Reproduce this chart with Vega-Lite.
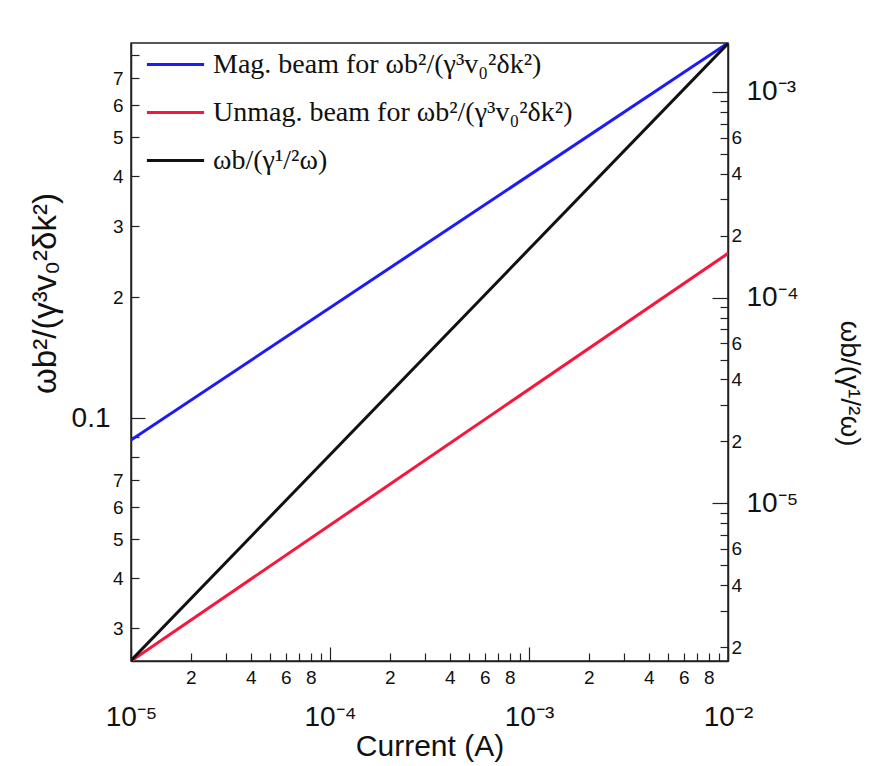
{
  "$schema": "https://vega.github.io/schema/vega-lite/v6.json",
  "autosize": "none",
  "width": 597,
  "height": 618,
  "padding": {"left": 131, "top": 43, "right": 146, "bottom": 105},
  "background": "white",
  "config": {
    "view": {"stroke": "#222", "strokeWidth": 1.5},
    "axis": {"domainColor": "#222", "tickColor": "#222", "labelColor": "#111", "titleColor": "#111", "labelFont": "Liberation Sans", "titleFont": "Liberation Sans", "titleFontWeight": "normal", "grid": false, "domainWidth": 1.5, "tickWidth": 1.2, "labelOverlap": false, "labelFlush": false}
  },
  "datasets": {
    "left": [
      {"I": 0.00001, "v": 0.0882, "series": "Mag. beam for ωb²/(γ³v₀²δk²)"},
      {"I": 0.01, "v": 0.857, "series": "Mag. beam for ωb²/(γ³v₀²δk²)"},
      {"I": 0.00001, "v": 0.0249, "series": "Unmag. beam for ωb²/(γ³v₀²δk²)"},
      {"I": 0.01, "v": 0.257, "series": "Unmag. beam for ωb²/(γ³v₀²δk²)"}
    ],
    "right": [
      {"I": 0.00001, "w": 0.00000172, "series": "ωb/(γ¹/²ω)"},
      {"I": 0.01, "w": 0.00172, "series": "ωb/(γ¹/²ω)"}
    ]
  },
  "encoding": {
    "x": {
      "field": "I", "type": "quantitative",
      "scale": {"type": "log", "domain": [0.00001, 0.01], "nice": false},
      "axis": {
        "title": "Current (A)", "titleFontSize": 30, "titlePadding": 0,
        "values": [0.00001,0.00002,0.00003,0.00004,0.00005,0.00006,0.00007,0.00008,0.00009,0.0001,0.0002,0.0003,0.0004,0.0005,0.0006,0.0007,0.0008,0.0009,0.001,0.002,0.003,0.004,0.005,0.006,0.007,0.008,0.009,0.01],
        "labelExpr": "round(datum.value/pow(10,floor(log(datum.value)/LN10+1e-6)))==1 ? '10'+(floor(log(datum.value)/LN10+1e-6)==-5?'⁻⁵':floor(log(datum.value)/LN10+1e-6)==-4?'⁻⁴':floor(log(datum.value)/LN10+1e-6)==-3?'⁻³':'⁻²') : (round(datum.value/pow(10,floor(log(datum.value)/LN10+1e-6)))%2==0 ? ''+round(datum.value/pow(10,floor(log(datum.value)/LN10+1e-6))) : '')",
        "labelFontSize": {"condition": {"test": "round(datum.value/pow(10,floor(log(datum.value)/LN10+1e-6)))==1", "value": 28}, "value": 19},
        "labelPadding": {"condition": {"test": "round(datum.value/pow(10,floor(log(datum.value)/LN10+1e-6)))==1", "value": 56}, "value": 15},
        "tickSize": {"condition": {"test": "round(datum.value/pow(10,floor(log(datum.value)/LN10+1e-6)))==1", "value": -14}, "value": -8}
      }
    },
    "color": {
      "field": "series", "type": "nominal",
      "scale": {"domain": ["Mag. beam for ωb²/(γ³v₀²δk²)", "Unmag. beam for ωb²/(γ³v₀²δk²)", "ωb/(γ¹/²ω)"], "range": ["#1c1cf5", "#f5183c", "#111111"]},
      "legend": {
        "title": null, "orient": "none", "legendX": 21, "legendY": -2, "padding": 0,
        "symbolType": "M-1.3,0H1.3", "symbolSize": 1936, "symbolStrokeWidth": 3,
        "labelFont": "Liberation Serif", "labelFontSize": 28, "labelColor": "#111", "labelOffset": 14, "rowPadding": 10, "labelLimit": 600
      }
    }
  },
  "layer": [
    {
      "data": {"name": "left"},
      "mark": {"type": "line", "strokeWidth": 3, "clip": true},
      "encoding": {
        "detail": {"field": "series"},
        "y": {
          "field": "v", "type": "quantitative",
          "scale": {"type": "log", "domain": [0.0249, 0.857], "nice": false},
          "axis": {
            "orient": "left",
            "title": "ωb²/(γ³v₀²δk²)", "titleFontSize": 33, "titleY": 250, "titlePadding": 9,
            "values": [0.03,0.04,0.05,0.06,0.07,0.08,0.09,0.1,0.2,0.3,0.4,0.5,0.6,0.7,0.8],
            "labelExpr": "round(datum.value/pow(10,floor(log(datum.value)/LN10+1e-6)))==1 ? '0.1' : (round(datum.value/pow(10,floor(log(datum.value)/LN10+1e-6)))<=7 ? ''+round(datum.value/pow(10,floor(log(datum.value)/LN10+1e-6))) : '')",
            "labelFontSize": {"condition": {"test": "round(datum.value/pow(10,floor(log(datum.value)/LN10+1e-6)))==1", "value": 28}, "value": 19},
            "labelPadding": {"condition": {"test": "round(datum.value/pow(10,floor(log(datum.value)/LN10+1e-6)))==1", "value": 35}, "value": 16},
            "tickSize": {"condition": {"test": "round(datum.value/pow(10,floor(log(datum.value)/LN10+1e-6)))==1", "value": -14}, "value": -8}
          }
        }
      }
    },
    {
      "data": {"name": "right"},
      "mark": {"type": "line", "strokeWidth": 3, "clip": true},
      "encoding": {
        "y": {
          "field": "w", "type": "quantitative",
          "scale": {"type": "log", "domain": [0.00000171, 0.00173], "nice": false},
          "axis": {
            "orient": "right",
            "title": "ωb/(γ¹/²ω)", "titleFontSize": 28, "titleY": 340, "titlePadding": 36,
            "values": [0.000002,0.000003,0.000004,0.000005,0.000006,0.000007,0.000008,0.000009,0.00001,0.00002,0.00003,0.00004,0.00005,0.00006,0.00007,0.00008,0.00009,0.0001,0.0002,0.0003,0.0004,0.0005,0.0006,0.0007,0.0008,0.0009,0.001],
            "labelExpr": "round(datum.value/pow(10,floor(log(datum.value)/LN10+1e-6)))==1 ? '10'+(floor(log(datum.value)/LN10+1e-6)==-5?'⁻⁵':floor(log(datum.value)/LN10+1e-6)==-4?'⁻⁴':'⁻³') : (round(datum.value/pow(10,floor(log(datum.value)/LN10+1e-6)))%2==0 && round(datum.value/pow(10,floor(log(datum.value)/LN10+1e-6)))<8 ? ''+round(datum.value/pow(10,floor(log(datum.value)/LN10+1e-6))) : '')",
            "labelFontSize": {"condition": {"test": "round(datum.value/pow(10,floor(log(datum.value)/LN10+1e-6)))==1", "value": 28}, "value": 19},
            "labelPadding": {"condition": {"test": "round(datum.value/pow(10,floor(log(datum.value)/LN10+1e-6)))==1", "value": 34}, "value": 11},
            "tickSize": {"condition": {"test": "round(datum.value/pow(10,floor(log(datum.value)/LN10+1e-6)))==1", "value": -16}, "value": -8}
          }
        }
      }
    }
  ],
  "resolve": {"scale": {"y": "independent"}, "axis": {"y": "independent"}}
}
